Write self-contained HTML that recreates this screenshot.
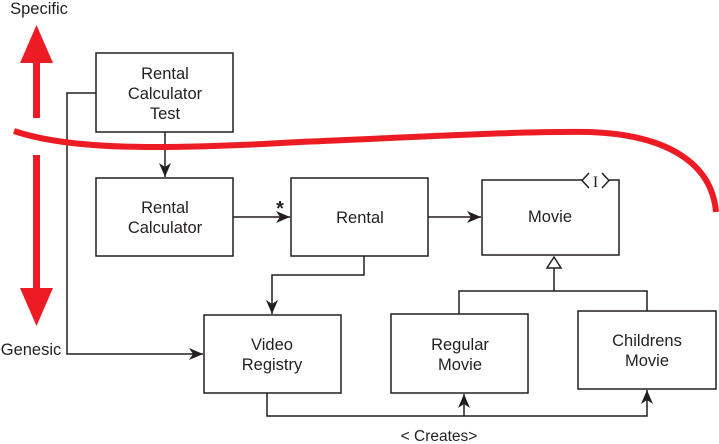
<!DOCTYPE html>
<html><head><meta charset="utf-8"><style>
html,body{margin:0;padding:0;background:#fff;}
svg{display:block;}
text{font-family:"Liberation Sans",Arial,sans-serif;font-size:16.5px;fill:#231f20;}
</style></head><body>
<svg width="719" height="444" viewBox="0 0 719 444" xmlns="http://www.w3.org/2000/svg">
<defs>
<marker id="ah" markerWidth="15" markerHeight="13" refX="14" refY="6" orient="auto" markerUnits="userSpaceOnUse">
<path d="M0,0 L14,6 L0,12 L4,6 Z" fill="#231f20"/>
</marker>
</defs>
<g fill="none" stroke="#231f20" stroke-width="1.5">
<!-- boxes -->
<rect x="96" y="53" width="137" height="79"/>
<rect x="96" y="178" width="137" height="78"/>
<rect x="291" y="178" width="137" height="78"/>
<path d="M582,180 L482,180 L482,255 L619,255 L619,180 L609,180"/>
<rect x="204" y="315" width="137" height="78"/>
<rect x="391" y="314" width="137" height="79"/>
<rect x="578" y="311" width="138" height="78"/>
<!-- interface marker -->
<path d="M589,173 L582,180.5 L589,188"/>
<path d="M602,173 L609,180.5 L602,188"/>
<!-- connectors -->
<path d="M165,132 L165,177" marker-end="url(#ah)"/>
<path d="M233,217 L290,217" marker-end="url(#ah)"/>
<path d="M428,217 L481,217" marker-end="url(#ah)"/>
<path d="M96,93 L67,93 L67,354 L203,354" marker-end="url(#ah)"/>
<path d="M364,256 L364,275 L272,275 L272,314" marker-end="url(#ah)"/>
<path d="M267,393 L267,416 L647,416 L647,390" marker-end="url(#ah)"/>
<path d="M464,416 L464,394" marker-end="url(#ah)"/>
<!-- generalization -->
<path d="M554,268 L554,291 M459,314 L459,291 L647,291 L647,311"/>
<path d="M554,257 L547,268 L561,268 Z" fill="#fff"/>
</g>
<!-- red arrows -->
<g fill="#ed1c24">
<rect x="33" y="62" width="7" height="56"/>
<path d="M20,63 L36.5,25 L53,63 Z"/>
<rect x="33" y="155" width="7" height="135"/>
<path d="M20,288 L36.5,326 L53,288 Z"/>
</g>
<path d="M14,131 C 70,150 160,150 300,142 C 420,137 520,131 590,132 C 670,135 712,165 716,212" fill="none" stroke="#ed1c24" stroke-width="6"/>
<!-- texts -->
<text x="39" y="14" text-anchor="middle">Specific</text>
<text x="31" y="355" text-anchor="middle">Genesic</text>
<g text-anchor="middle">
<text x="165" y="79">Rental</text>
<text x="165" y="99">Calculator</text>
<text x="165" y="119">Test</text>
<text x="165" y="213">Rental</text>
<text x="165" y="233">Calculator</text>
<text x="360" y="223">Rental</text>
<text x="550" y="222">Movie</text>
<text x="272" y="350">Video</text>
<text x="272" y="370">Registry</text>
<text x="460" y="350">Regular</text>
<text x="460" y="370">Movie</text>
<text x="647" y="346">Childrens</text>
<text x="647" y="366">Movie</text>
<text x="439" y="441" style="font-size:15.5px">&lt; Creates&gt;</text>
</g>
<text x="595.5" y="187" text-anchor="middle" style="font-family:'Liberation Serif',serif;font-size:16px">I</text>
<text x="280" y="215" text-anchor="middle" style="font-size:20px;font-weight:bold">*</text>
</svg>
</body></html>
